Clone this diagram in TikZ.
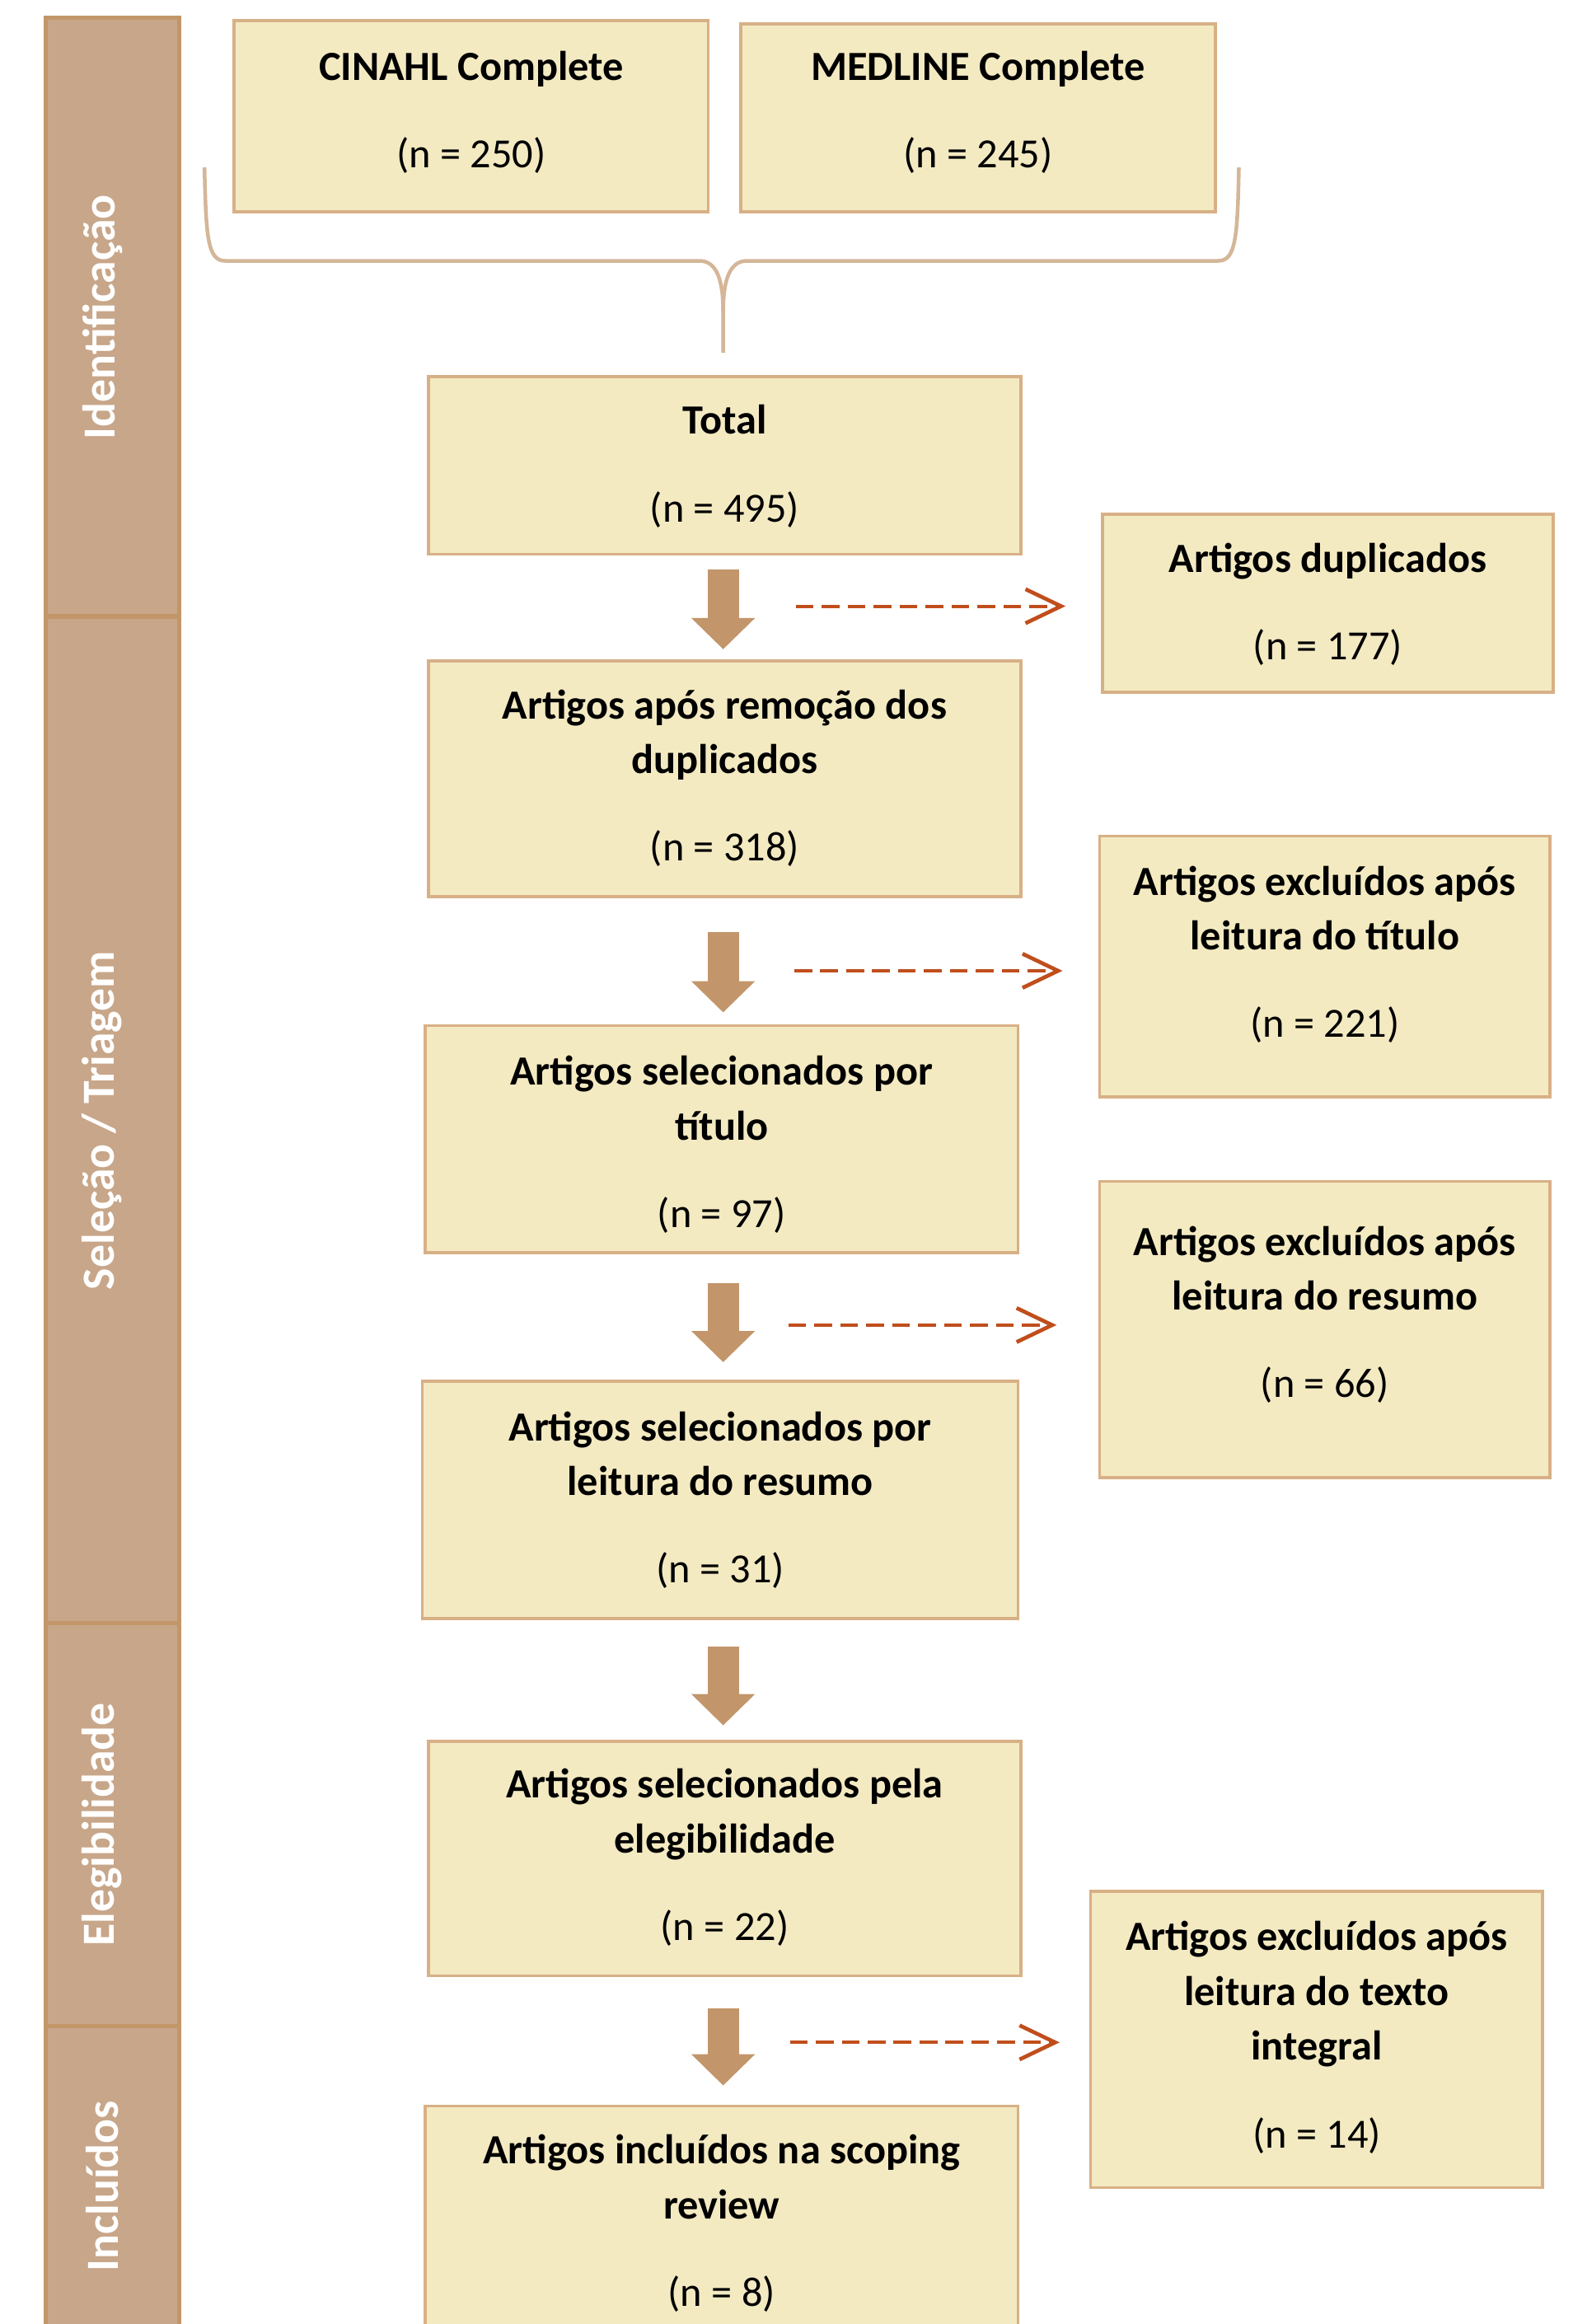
\documentclass[tikz,border=0pt]{standalone}
\usepackage{fontspec}
\setmainfont{Carlito}
\usetikzlibrary{arrows.meta,calc}
\definecolor{sidefill}{RGB}{200,166,137}
\definecolor{sidedraw}{RGB}{194,150,104}
\definecolor{boxfill}{RGB}{243,234,194}
\definecolor{boxdraw}{RGB}{216,176,134}
\definecolor{arrowcol}{RGB}{194,150,106}
\definecolor{dashcol}{RGB}{192,78,28}
\definecolor{bracecol}{RGB}{212,182,152}
\newcommand\bxt[2]{\vtop{\halign{\hfil##\hfil\cr#1\cr\noalign{\vskip 22pt}#2\cr}}}
\begin{document}
\begin{tikzpicture}[x=1pt,y=-1pt,
 box/.style={draw=boxdraw, fill=boxfill, line width=2pt, inner sep=0pt, rectangle},
 sidebox/.style={draw=sidedraw, fill=sidefill, line width=3pt, inner sep=0pt, rectangle},
 txt/.style={font=\fontsize{28}{37}\selectfont, inner sep=0pt, anchor=base},
 side/.style={font=\fontsize{31}{36}\selectfont\bfseries, text=white, rotate=90, inner sep=0pt},
 bigarrow/.style={draw=arrowcol, line width=21pt, -{Triangle[width=43pt,length=21pt,line width=0pt]}},
 dasharrow/.style={draw=dashcol, line width=2.3pt, dash pattern=on 12pt off 5.5pt, -{Straight Barb[length=24pt,width=23pt,line width=2.6pt]}},
 bracepath/.style={draw=bracecol, line width=2.5pt}
]
\useasboundingbox (0,0) rectangle (1061,1568);

% sidebar
\node[sidebox, minimum width=90pt, minimum height=404pt] (s1) at (76,214) {};
\node[sidebox, minimum width=90pt, minimum height=679pt] (s2) at (76,755.5) {};
\node[sidebox, minimum width=90pt, minimum height=272pt] (s3) at (76,1231) {};
\node[sidebox, minimum width=90pt, minimum height=223pt] (s4) at (76,1478.5) {};
\node[side] (l1) at (69,214) {Identificação};
\node[side] (l2) at (69,756) {Seleção / Triagem};
\node[side] (l3) at (69,1231) {Elegibilidade};
\node[side] (l4) at (69,1475) {Incluídos};

% boxes
\node[box, minimum width=320pt, minimum height=129pt] (cinahl) at (318,78.5) {};
\node[box, minimum width=320pt, minimum height=127pt] (medline) at (660,79.5) {};
\node[box, minimum width=400pt, minimum height=120pt] (total) at (489,314) {};
\node[box, minimum width=304pt, minimum height=120pt] (dup) at (896,407) {};
\node[box, minimum width=400pt, minimum height=159pt] (after) at (489,525.5) {};
\node[box, minimum width=304pt, minimum height=176pt] (extit) at (894,652) {};
\node[box, minimum width=400pt, minimum height=153pt] (seltit) at (487,768.5) {};
\node[box, minimum width=304pt, minimum height=200pt] (exres) at (894,897) {};
\node[box, minimum width=402pt, minimum height=160pt] (selres) at (486,1012) {};
\node[box, minimum width=400pt, minimum height=158pt] (eleg) at (489,1254) {};
\node[box, minimum width=305pt, minimum height=200pt] (exint) at (888.5,1376) {};
\node[box, minimum width=400pt, minimum height=159pt] (incl) at (487,1500.5) {};

% texts
\node[txt] (tcinahl) at ($(cinahl.north)+(0,41)$) {\bxt{\textbf{CINAHL Complete}}{(n = 250)}};
\node[txt] (tmedline) at ($(medline.north)+(0,39)$) {\bxt{\textbf{MEDLINE Complete}}{(n = 245)}};
\node[txt] (ttotal) at ($(total.north)+(0,40)$) {\bxt{\textbf{Total}}{(n = 495)}};
\node[txt] (tdup) at ($(dup.north)+(0,40)$) {\bxt{\textbf{Artigos duplicados}}{(n = 177)}};
\node[txt] (tafter) at ($(after.north)+(0,40)$) {\bxt{\textbf{Artigos após remoção dos}\cr\textbf{duplicados}}{(n = 318)}};
\node[txt] (textit) at ($(extit.north)+(0,41)$) {\bxt{\textbf{Artigos excluídos após}\cr\textbf{leitura do título}}{(n = 221)}};
\node[txt] (tseltit) at ($(seltit.north)+(0,41)$) {\bxt{\textbf{Artigos selecionados por}\cr\textbf{título}}{(n = 97)}};
\node[txt] (texres) at ($(exres.north)+(0,51)$) {\bxt{\textbf{Artigos excluídos após}\cr\textbf{leitura do resumo}}{(n = 66)}};
\node[txt] (tselres) at ($(selres.north)+(0,41)$) {\bxt{\textbf{Artigos selecionados por}\cr\textbf{leitura do resumo}}{(n = 31)}};
\node[txt] (teleg) at ($(eleg.north)+(0,39)$) {\bxt{\textbf{Artigos selecionados pela}\cr\textbf{elegibilidade}}{(n = 22)}};
\node[txt] (texint) at ($(exint.north)+(0,41)$) {\bxt{\textbf{Artigos excluídos após}\cr\textbf{leitura do texto}\cr\textbf{integral}}{(n = 14)}};
\node[txt] (tincl) at ($(incl.north)+(0,40)$) {\bxt{\textbf{Artigos incluídos na scoping}\cr\textbf{review}}{(n = 8)}};

% brace
\coordinate (bl) at (138,113);
\coordinate (br) at (836,113);
\coordinate (btip) at (488,238);
\draw[bracepath] (bl) .. controls (139,160) and (140,176) .. (152,176) -- (472,176)
  .. controls (484,176) and (488,190) .. (488,210) -- (btip);
\draw[bracepath] (br) .. controls (835,160) and (834,176) .. (822,176) -- (504,176)
  .. controls (492,176) and (488,190) .. (488,210);

% thick arrows
\draw[bigarrow] ($(total.south)+(-1,9)$) -- ++(0,54);
\draw[bigarrow] ($(after.south)+(-1,23)$) -- ++(0,54);
\draw[bigarrow] ($(seltit.south)+(1,20)$) -- ++(0,53);
\draw[bigarrow] ($(selres.south)+(2,18)$) -- ++(0,53);
\draw[bigarrow] ($(eleg.south)+(-1,21)$) -- ++(0,52);

% dashed arrows
\coordinate (d1) at (537,409);
\coordinate (d2) at (536,655);
\coordinate (d3) at (532,894);
\coordinate (d4) at (533,1378);
\draw[dasharrow] (d1) -- ($(d1 -| dup.west)+(-24,0)$);
\draw[dasharrow] (d2) -- ($(d2 -| extit.west)+(-24,0)$);
\draw[dasharrow] (d3) -- ($(d3 -| exres.west)+(-28,0)$);
\draw[dasharrow] (d4) -- ($(d4 -| exint.west)+(-20,0)$);
\end{tikzpicture}
\end{document}
